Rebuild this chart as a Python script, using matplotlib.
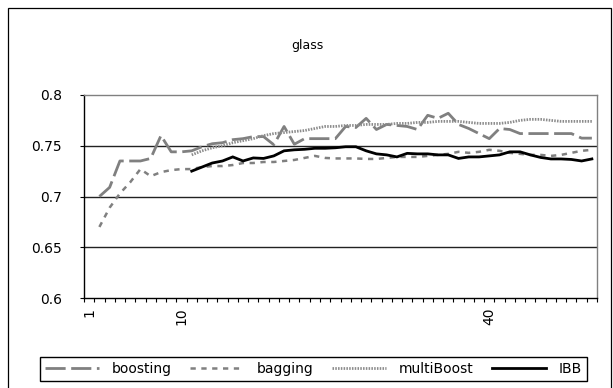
import numpy as np
import matplotlib
matplotlib.use("Agg")
import matplotlib.pyplot as plt
from matplotlib.patches import Rectangle

plt.rcParams['font.family'] = ['DejaVu Sans']
plt.rcParams['lines.scale_dashes'] = False

# ---------------- data ----------------
categories = list(range(1, 51))
shown_labels = [1, 10, 40]
title = "glass"
series_names = ["boosting", "bagging", "multiBoost", "IBB"]

boosting = [None, .700, .709, .735, .735, .735, .7375, .760, .744, .744,
            .745, .749, .752, .753, .756, .757, .759, .759, .751, .769,
            .7515, .757, .757, .757, .757, .769, .768, .777, .766, .771,
            .770, .769, .766, .780, .777, .782, .771, .767, .762, .757,
            .767, .766, .762, .762, .762, .762, .762, .762, .7575, .7575]
bagging = [None, .670, .689, .703, .714, .727, .720, .724, .726, .727,
           .727, .729, .730, .730, .731, .733, .733, .734, .734, .735,
           .736, .738, .740, .738, .7375, .7375, .7375, .737, .737, .738,
           .739, .739, .739, .740, .741, .742, .744, .743, .744, .746,
           .745, .743, .742, .741, .741, .740, .741, .743, .745, .746]
multiboost = [None] * 10 + [.741, .745, .748, .750, .753, .755, .757, .760, .762, .763,
                            .764, .765, .767, .769, .769, .770, .770, .771, .771, .771,
                            .772, .772, .773, .773, .774, .774, .774, .773, .772, .772,
                            .772, .773, .775, .776, .776, .775, .774, .774, .774, .774]
ibb = [None] * 10 + [.725, .729, .733, .735, .739, .735, .738, .7375, .740, .745,
                     .746, .7465, .7475, .7475, .748, .749, .749, .745, .742, .741,
                     .739, .7425, .742, .742, .741, .741, .7375, .739, .739, .740,
                     .741, .744, .744, .741, .7385, .737, .737, .7365, .735, .737]
y_ticks = [0.6, 0.65, 0.7, 0.75, 0.8]
y_ticklabels = ["0.6", "0.65", "0.7", "0.75", "0.8"]


def arr(v):
    return np.array([np.nan if x is None else x for x in v], dtype=float)


W, H = 613, 388
fig = plt.figure(figsize=(W / 100, H / 100), dpi=100)
fig.patch.set_facecolor('white')

# chart-area frame
fig.patches.append(Rectangle((8 / W, -0.05), (611 - 8) / W, (H - 8) / H + 0.05,
                             transform=fig.transFigure, fill=False,
                             edgecolor='black', linewidth=0.9))

ax = fig.add_axes([84 / W, (H - 298) / H, 513 / W, 203 / H])
x = np.array(categories)

styles = [
    dict(color='#808080', lw=2.0, dashes=(14.5, 4.0)),
    dict(color='#808080', lw=1.8, dashes=(3.8, 4.0)),
    dict(color='#8c8c8c', lw=2.0, dashes=(1.1, 0.9)),
    dict(color='black', lw=2.0, linestyle='-'),
]
handles = []
for data, st, name in zip([boosting, bagging, multiboost, ibb], styles, series_names):
    ln, = ax.plot(x, arr(data), label=name, zorder=3, solid_joinstyle='miter',
                  **st)
    handles.append(ln)

ax.set_xlim(0.5, len(categories) + 0.5)
ax.set_ylim(0.6, 0.8)

# y axis
ax.set_yticks(y_ticks)
ax.set_yticklabels(y_ticklabels, fontsize=10)
ax.tick_params(axis='y', direction='out', length=3, width=0.8, pad=13)
ax.yaxis.grid(True, color='#222222', linewidth=1.0, zorder=1)
glines = ax.get_ygridlines()
glines[0].set_visible(False)
glines[-1].set_visible(False)
ax.set_axisbelow(True)

# x axis
ax.set_xticks(np.arange(0.5, len(categories) + 1, 1), minor=True)
ax.set_xticks(shown_labels)
ax.set_xticklabels([str(v) for v in shown_labels], rotation=90, fontsize=10)
ax.tick_params(axis='x', which='major', length=0, pad=7)
ax.tick_params(axis='x', which='minor', direction='out', length=3, width=0.8)

for s in ['left', 'bottom']:
    ax.spines[s].set_color('black')
    ax.spines[s].set_linewidth(1.0)
for s in ['top', 'right']:
    ax.spines[s].set_color('#808080')
    ax.spines[s].set_linewidth(1.0)

fig.text(307 / W, 1 - 45 / H, title, ha='center', va='center', fontsize=9)

leg = ax.legend(handles=handles, labels=series_names, ncol=4, mode='expand',
                loc='center', bbox_to_anchor=(40 / W, (H - 384) / H, 547 / W, 30 / H),
                bbox_transform=fig.transFigure, borderaxespad=0, frameon=True,
                fancybox=False, edgecolor='black', framealpha=1, fontsize=10,
                handlelength=3.9, handletextpad=0.9, borderpad=0.35)
leg.get_frame().set_linewidth(1.0)

fig.savefig('out.png', dpi=100, facecolor='white')
